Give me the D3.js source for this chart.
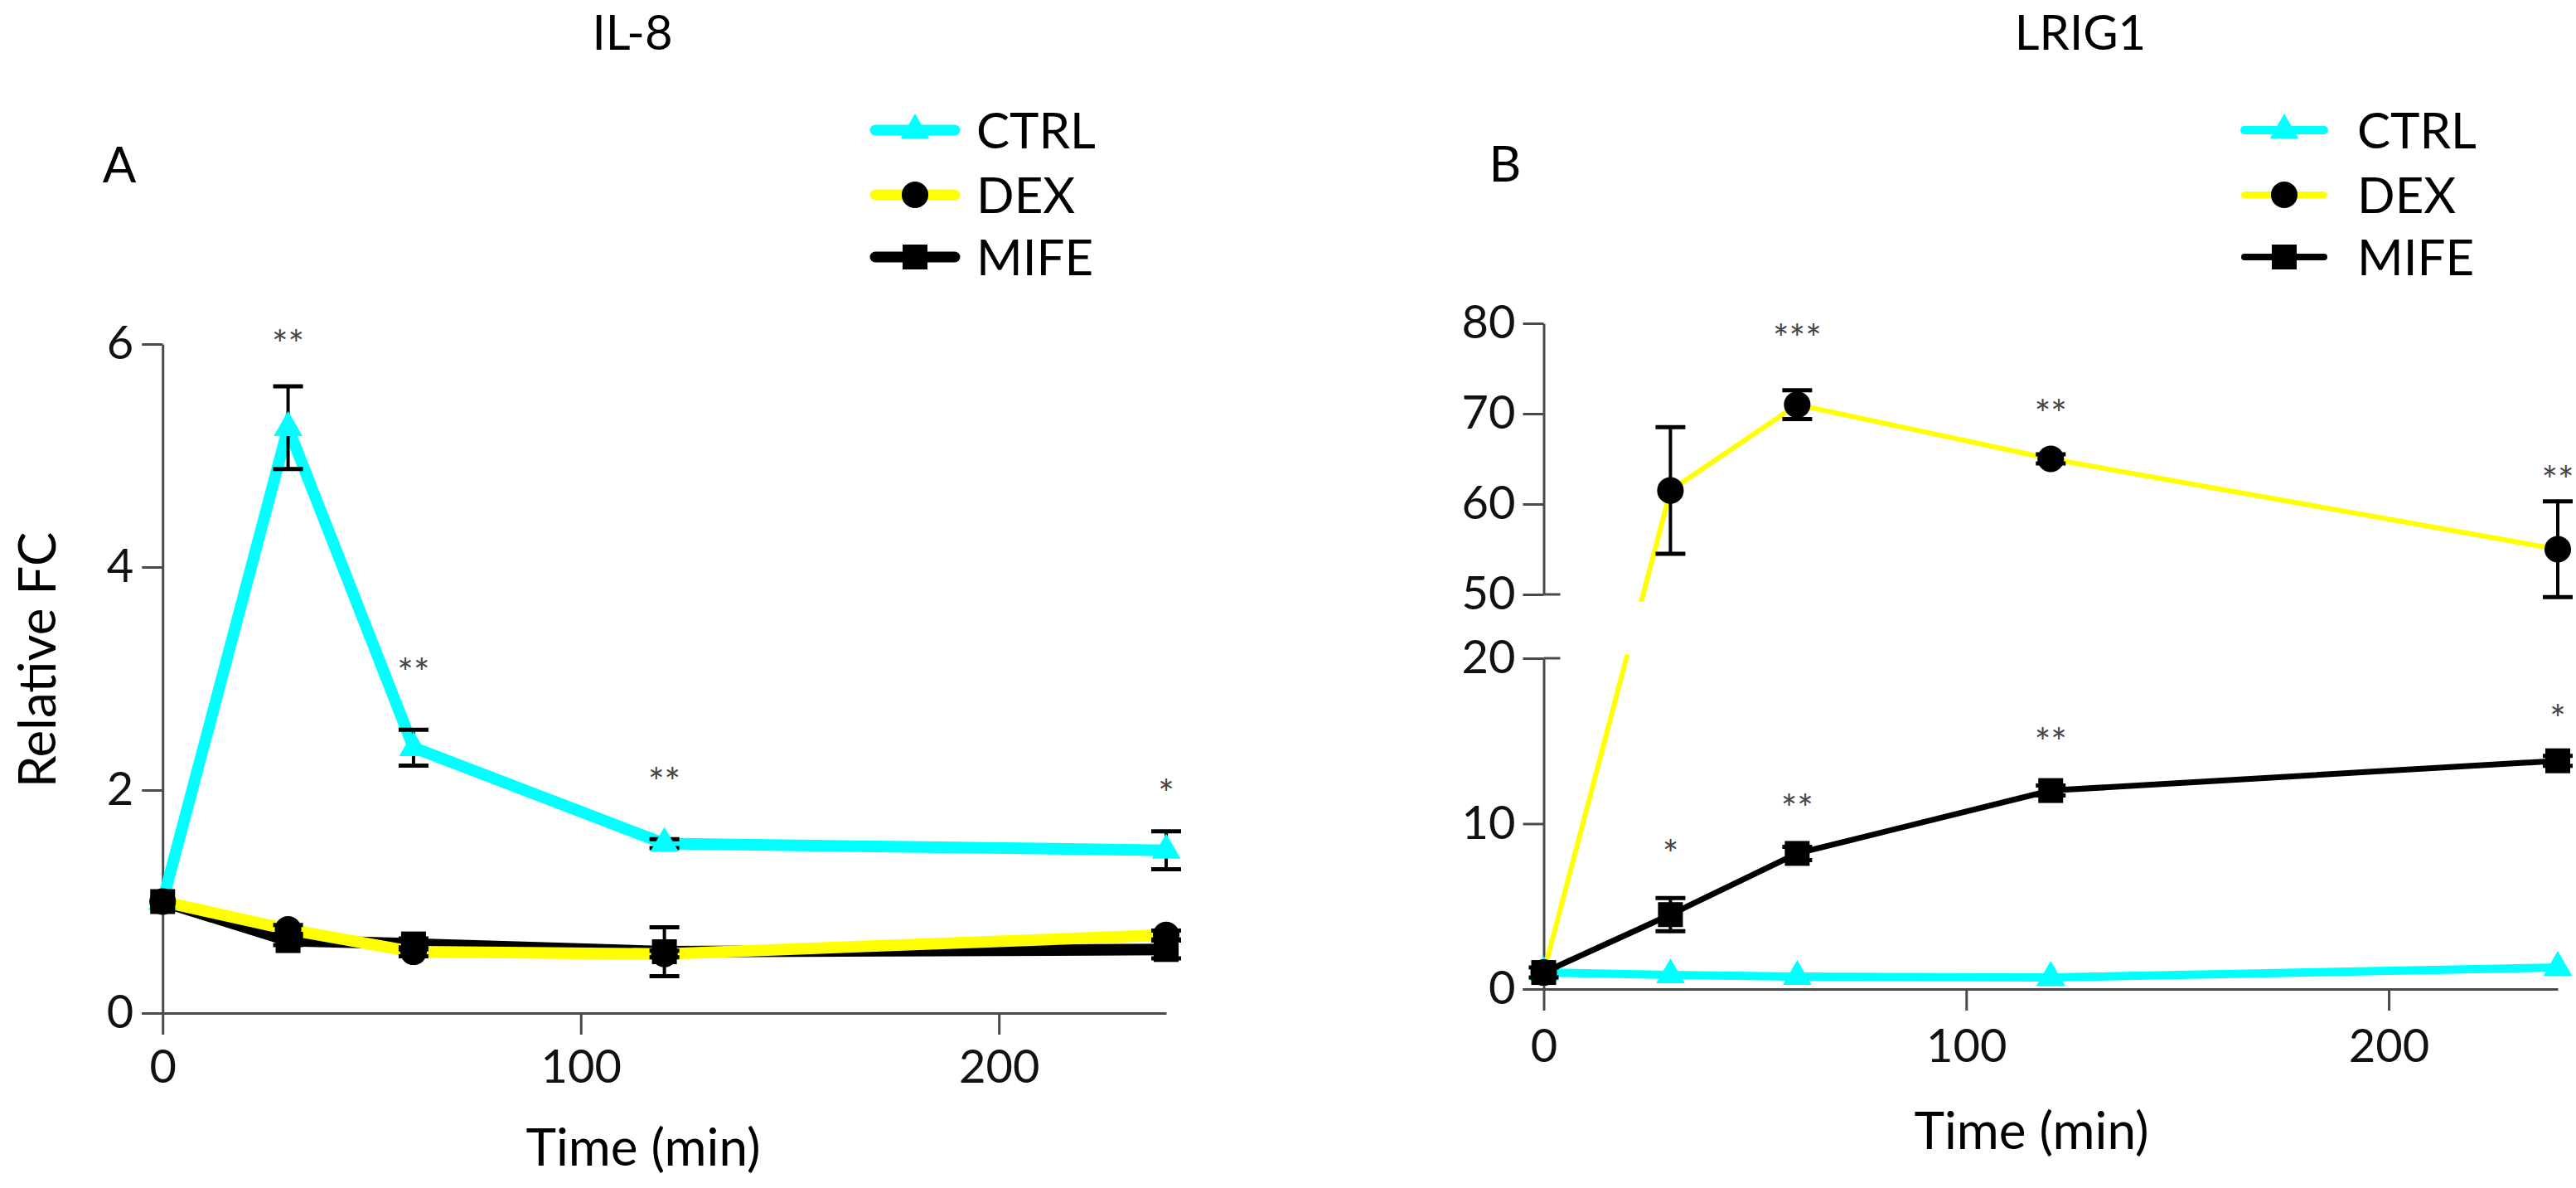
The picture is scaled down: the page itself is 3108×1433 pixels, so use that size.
<!DOCTYPE html>
<html>
<head>
<meta charset="utf-8">
<script src="https://cdn.jsdelivr.net/npm/d3@7"></script>
<style>
  html, body { margin: 0; padding: 0; background: #fff; }
  svg { display: block; font-family: Lato, "Open Sans", sans-serif; }
</style>
</head>
<body>
<svg id="chart" width="3108" height="1433"></svg>
<script>
// ---------------- DATA ----------------
const times = [0, 30, 60, 120, 240];
const seriesNames = ["CTRL", "DEX", "MIFE"];
const seriesColors = ["#00FFFF", "#FFFF00", "#000000"];

// Panel A: IL-8
const il8Ctrl     = [1.0, 5.25, 2.38, 1.52, 1.46];
const il8CtrlErr  = [0.0, 0.37, 0.16, 0.04, 0.17];
const il8Dex      = [1.0, 0.75, 0.55, 0.53, 0.70];
const il8DexErr   = [0.0, 0.04, 0.04, 0.03, 0.04];
const il8Mife     = [1.0, 0.65, 0.62, 0.55, 0.57];
const il8MifeErr  = [0.0, 0.04, 0.05, 0.22, 0.08];
const il8SigTimes = [30, 60, 120, 240];
const il8SigText  = ["**", "**", "**", "*"];
const il8SigLevel = [6.05, 3.11, 2.13, 2.02];

// Panel B: LRIG1
const lrigCtrl    = [1.0, 0.85, 0.75, 0.70, 1.30];
const lrigCtrlErr = [0, 0, 0, 0, 0];
const lrigDex     = [1.0, 61.5, 71.0, 65.0, 55.0];
const lrigDexErr  = [0.0, 7.0, 1.6, 0.5, 5.3];
const lrigMife    = [1.0, 4.5, 8.2, 12.0, 13.8];
const lrigMifeErr = [0.3, 1.0, 0.4, 0.3, 0.3];
const lrigDexSigTimes  = [60, 120, 240];
const lrigDexSigText   = ["***", "**", "**"];
const lrigDexSigLevel  = [79.0, 70.6, 63.3];
const lrigMifeSigTimes = [30, 60, 120, 240];
const lrigMifeSigText  = ["*", "**", "**", "*"];
const lrigMifeSigLevel = [8.5, 11.3, 15.3, 16.7];

// Tick values
const xTicks = [0, 100, 200];
const yTicksA = [0, 2, 4, 6];
const yTicksBUpper = [50, 60, 70, 80];
const yTicksBLower = [0, 10, 20];

// ---------------- DRAW ----------------
const svg = d3.select("#chart");
const AXIS_COLOR = "#4a4a4a";
const TICK_FONT = 56;
const fmt = d3.format("d");

function styleAxis(g) {
  g.selectAll("path.domain").attr("stroke", AXIS_COLOR).attr("stroke-width", 3);
  g.selectAll(".tick line").attr("stroke", AXIS_COLOR).attr("stroke-width", 3);
  g.selectAll(".tick text").attr("fill", "#111").attr("font-size", TICK_FONT)
    .attr("font-family", "Lato, 'Open Sans', sans-serif");
}

const symTri = d3.symbol().type(d3.symbolTriangle).size(520)();
const symCirc = d3.symbol().type(d3.symbolCircle).size(810)();
const symSq = d3.symbol().type(d3.symbolSquare).size(900)();
const symbols = [symTri, symCirc, symSq];
const markerFill = ["#00FFFF", "#000", "#000"];

function drawLegend(g, x0, x1, textX, rowYs, lineWidths) {
  seriesNames.forEach((name, i) => {
    const y = rowYs[i];
    g.append("line").attr("x1", x0).attr("x2", x1).attr("y1", y).attr("y2", y)
      .attr("stroke", seriesColors[i]).attr("stroke-width", lineWidths[i])
      .attr("stroke-linecap", "round");
    g.append("path").attr("d", symbols[i])
      .attr("transform", `translate(${(x0 + x1) / 2},${y})`)
      .attr("fill", markerFill[i]);
    g.append("text").attr("x", textX).attr("y", y + 22)
      .attr("font-size", 60).attr("fill", "#000").text(name);
  });
}

function drawSeries(g, x, y, vals, errs, idx, lineWidth, clip) {
  const pts = times.map((t, i) => ({ t, v: vals[i], e: errs[i] }));
  const line = d3.line().x(d => x(d.t)).y(d => y(d.v));
  const lg = g.append("g");
  if (clip) lg.attr("clip-path", clip);
  lg.append("path").datum(pts).attr("d", line)
    .attr("fill", "none").attr("stroke", seriesColors[idx])
    .attr("stroke-width", lineWidth).attr("stroke-linejoin", "miter");
  return pts;
}

function drawErrAndMarkers(g, x, y, pts, idx) {
  const eg = g.append("g");
  pts.filter(d => d.e > 0).forEach(d => {
    const cx = x(d.t), yt = y(d.v + d.e), yb = y(d.v - d.e);
    eg.append("line").attr("x1", cx).attr("x2", cx).attr("y1", yt).attr("y2", yb)
      .attr("stroke", "#000").attr("stroke-width", 4);
    [yt, yb].forEach(yy => eg.append("line").attr("x1", cx - 18).attr("x2", cx + 18)
      .attr("y1", yy).attr("y2", yy).attr("stroke", "#000").attr("stroke-width", 5));
  });
  g.append("g").selectAll("path").data(pts).join("path")
    .attr("d", symbols[idx])
    .attr("transform", d => `translate(${x(d.t)},${y(d.v)})`)
    .attr("fill", markerFill[idx]);
}

function drawSig(g, x, y, tArr, txt, lvl) {
  tArr.forEach((t, i) => {
    g.append("text").attr("x", x(t)).attr("y", y(lvl[i]) + 24)
      .attr("text-anchor", "middle").attr("font-size", 46).attr("fill", "#444")
      .text(txt[i]);
  });
}

// ===== Panel A =====
const xA = d3.scaleLinear().domain([-5, 240]).range([171, 1407]);
const yA = d3.scaleLinear().domain([0, 6]).range([1222, 415]);
const gA = svg.append("g");

gA.append("g").attr("transform", `translate(0,${yA(0)})`)
  .call(d3.axisBottom(xA).tickValues(xTicks).tickFormat(fmt).tickSizeInner(26).tickSizeOuter(0).tickPadding(18))
  .call(styleAxis);
gA.append("g").attr("transform", `translate(${xA(0)},0)`)
  .call(d3.axisLeft(yA).tickValues(yTicksA).tickFormat(fmt).tickSizeInner(25).tickSizeOuter(0).tickPadding(10))
  .call(styleAxis);

const aC = drawSeries(gA, xA, yA, il8Ctrl, il8CtrlErr, 0, 14);
const aM = drawSeries(gA, xA, yA, il8Mife, il8MifeErr, 2, 14);
const aD = drawSeries(gA, xA, yA, il8Dex, il8DexErr, 1, 14);
drawErrAndMarkers(gA, xA, yA, aC, 0);
drawErrAndMarkers(gA, xA, yA, aM, 2);
drawErrAndMarkers(gA, xA, yA, aD, 1);
drawSig(gA, xA, yA, il8SigTimes, il8SigText, il8SigLevel);

gA.append("text").attr("x", 763).attr("y", 60).attr("text-anchor", "middle")
  .attr("font-size", 58).text("IL-8");
gA.append("text").attr("x", 144).attr("y", 220).attr("text-anchor", "middle")
  .attr("font-size", 60).text("A");
gA.append("text").attr("transform", "translate(67,796) rotate(-90)")
  .attr("text-anchor", "middle").attr("font-size", 62).text("Relative FC");
gA.append("text").attr("x", 776).attr("y", 1406).attr("text-anchor", "middle")
  .attr("font-size", 62).text("Time (min)");
drawLegend(gA, 1056, 1152, 1178, [157, 235, 310], [13, 13, 13]);

// ===== Panel B =====
const xB = d3.scaleLinear().domain([-5, 240]).range([1837, 3086]);
const yBlow = d3.scaleLinear().domain([0, 20]).range([1193, 794]);
const yBup = d3.scaleLinear().domain([50, 80]).range([717, 390]);
const yB = v => (v <= 20 ? yBlow(v) : yBup(v));
const gB = svg.append("g");

const defs = svg.append("defs");
const cp = defs.append("clipPath").attr("id", "clipB");
cp.append("rect").attr("x", 1700).attr("y", 300).attr("width", 1408).attr("height", 726 - 300);
cp.append("rect").attr("x", 1700).attr("y", 790).attr("width", 1408).attr("height", 1300 - 790);

gB.append("g").attr("transform", `translate(0,${yBlow(0)})`)
  .call(d3.axisBottom(xB).tickValues(xTicks).tickFormat(fmt).tickSizeInner(26).tickSizeOuter(0).tickPadding(22))
  .call(styleAxis);
gB.append("g").attr("transform", `translate(${xB(0)},0)`)
  .call(d3.axisLeft(yBlow).tickValues(yTicksBLower).tickFormat(fmt).tickSizeInner(25).tickSizeOuter(0).tickPadding(9))
  .call(styleAxis);
gB.append("g").attr("transform", `translate(${xB(0)},0)`)
  .call(d3.axisLeft(yBup).tickValues(yTicksBUpper).tickFormat(fmt).tickSizeInner(25).tickSizeOuter(0).tickPadding(9))
  .call(styleAxis);
// break marks extend to the right of the axis
[yBup(50), yBlow(20)].forEach(yy => gB.append("line")
  .attr("x1", xB(0)).attr("x2", xB(0) + 20).attr("y1", yy).attr("y2", yy)
  .attr("stroke", AXIS_COLOR).attr("stroke-width", 3));

const bC = drawSeries(gB, xB, yB, lrigCtrl, lrigCtrlErr, 0, 10, "url(#clipB)");
const bD = drawSeries(gB, xB, yB, lrigDex, lrigDexErr, 1, 6, "url(#clipB)");
const bM = drawSeries(gB, xB, yB, lrigMife, lrigMifeErr, 2, 7, "url(#clipB)");
drawErrAndMarkers(gB, xB, yB, bC, 0);
drawErrAndMarkers(gB, xB, yB, bD, 1);
drawErrAndMarkers(gB, xB, yB, bM, 2);
drawSig(gB, xB, yB, lrigDexSigTimes, lrigDexSigText, lrigDexSigLevel);
drawSig(gB, xB, yB, lrigMifeSigTimes, lrigMifeSigText, lrigMifeSigLevel);

gB.append("text").attr("x", 2510).attr("y", 60).attr("text-anchor", "middle")
  .attr("font-size", 58).text("LRIG1");
gB.append("text").attr("x", 1816).attr("y", 219).attr("text-anchor", "middle")
  .attr("font-size", 60).text("B");
gB.append("text").attr("x", 2451).attr("y", 1386).attr("text-anchor", "middle")
  .attr("font-size", 62).text("Time (min)");
drawLegend(gB, 2708, 2804, 2844, [157, 235, 310], [10, 8, 8]);
</script>
</body>
</html>
